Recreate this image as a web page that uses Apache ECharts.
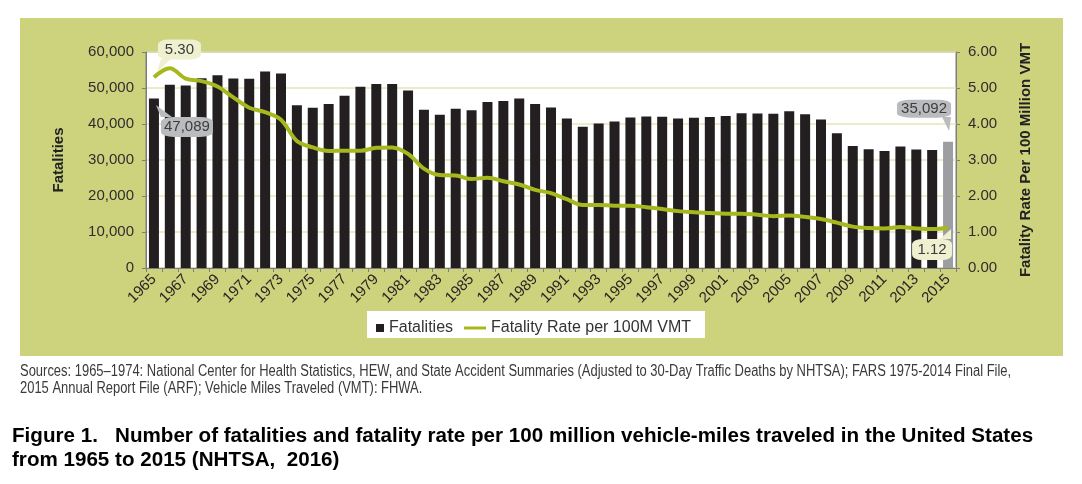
<!DOCTYPE html>
<html>
<head>
<meta charset="utf-8">
<script src="https://cdn.jsdelivr.net/npm/echarts@6/dist/echarts.min.js"></script>
<style>
  html, body { margin: 0; padding: 0; background: #fff; }
  #chart { width: 1082px; height: 484px; }
</style>
</head>
<body>
<div id="chart"></div>
<script>
const years = [];
for (let y = 1965; y <= 2015; y++) years.push(String(y));

const fatalities = [
  47089, 50894, 50724, 52725, 53543, 52627, 52542, 54589, 54052, 45196,
  44525, 45523, 47878, 50331, 51093, 51091, 49301, 43945, 42589, 44257,
  43825, 46087, 46390, 47087, 45582, 44599, 41508, 39250, 40150, 40716,
  41817, 42065, 42013, 41501, 41717, 41945, 42196, 43005, 42884, 42836,
  43510, 42708, 41259, 37423, 33883, 32999, 32479, 33782, 32894, 32744,
  35092
];

const rates = [
  5.30, 5.55, 5.26, 5.19, 5.04, 4.74, 4.45, 4.33, 4.12, 3.53,
  3.35, 3.25, 3.26, 3.26, 3.34, 3.35, 3.17, 2.76, 2.58, 2.57,
  2.47, 2.51, 2.41, 2.32, 2.17, 2.08, 1.91, 1.75, 1.75, 1.73,
  1.73, 1.69, 1.64, 1.58, 1.55, 1.53, 1.51, 1.51, 1.48, 1.44,
  1.46, 1.42, 1.36, 1.26, 1.15, 1.11, 1.10, 1.14, 1.10, 1.08,
  1.12
];

const seriesNames = ['Fatalities', 'Fatality Rate per 100M VMT'];
const leftAxisTitle = 'Fatalities';
const rightAxisTitle = 'Fatality Rate Per 100 Million VMT';
const sourceLines = [
  'Sources: 1965\u20131974: National Center for Health Statistics, HEW, and State Accident Summaries (Adjusted to 30-Day Traffic Deaths by NHTSA); FARS 1975-2014 Final File,',
  '2015 Annual Report File (ARF); Vehicle Miles Traveled (VMT): FHWA.'
];
const captionLines = [
  'Figure 1.   Number of fatalities and fatality rate per 100 million vehicle-miles traveled in the United States',
  'from 1965 to 2015 (NHTSA,  2016)'
];

const FONT = '"Liberation Sans", Arial, sans-serif';
const PANEL = '#cdd27d';
const LINE = '#a7b81e';
const GREY_BOX = '#b9bbbe';
const CREAM_BOX = '#eef0d0';

const last = years.length - 1;

const chart = echarts.init(document.getElementById('chart'));

function callout(coord, text, bg, box, tail) {
  // box: [w, h, dx, dy]  tail: [path, w, h, dx, dy]
  return [
    {
      coord: coord,
      symbol: tail[0],
      symbolSize: [tail[1], tail[2]],
      symbolOffset: [tail[3], tail[4]],
      itemStyle: { color: bg },
      label: { show: false }
    },
    {
      coord: coord,
      symbol: 'roundRect',
      symbolSize: [box[0], box[1]],
      symbolOffset: [box[2], box[3]],
      itemStyle: { color: bg },
      label: {
        show: true, position: 'inside', formatter: text,
        color: '#3c3c3c', fontFamily: FONT, fontSize: 15
      }
    }
  ];
}

// sources text is set in a condensed face in the original; squeeze regular Arial
function squeezed(text, x, y, font, fill, sx) {
  return {
    type: 'text', x: x, y: y, scaleX: sx,
    style: { text: text, x: 0, y: 0, font: font, fill: fill, textVerticalAlign: 'middle' }
  };
}

chart.setOption({
  animation: false,
  backgroundColor: '#fff',
  graphic: {
    elements: [
      { type: 'rect', z: -10, shape: { x: 20, y: 18, width: 1043, height: 338 }, style: { fill: PANEL } },
      { type: 'rect', z: 1, shape: { x: 367, y: 311, width: 338, height: 27 }, style: { fill: '#fff' } },
      squeezed(sourceLines[0], 20, 372, '16px ' + FONT, '#3a3a3a', 0.81),
      squeezed(sourceLines[1], 20, 389, '16px ' + FONT, '#3a3a3a', 0.81),
      squeezed(captionLines[0], 12, 436, 'bold 20px ' + FONT, '#000', 1.03),
      squeezed(captionLines[1], 12, 460, 'bold 20px ' + FONT, '#000', 1.03)
    ]
  },
  legend: [
    {
      data: [seriesNames[0]],
      left: 371, top: 315,
      icon: 'rect', itemWidth: 8, itemHeight: 8, itemGap: 10,
      textStyle: { fontFamily: FONT, fontSize: 16, color: '#333' }
    },
    {
      data: [seriesNames[1]],
      left: 459, top: 315,
      icon: 'rect', itemWidth: 22, itemHeight: 3,
      textStyle: { fontFamily: FONT, fontSize: 16, color: '#333' }
    }
  ],
  grid: {
    left: 146, right: 126, top: 52, bottom: 216,
    show: true, backgroundColor: '#fff', borderColor: '#7d7d7d', borderWidth: 1
  },
  xAxis: {
    type: 'category',
    data: years,
    boundaryGap: true,
    axisLine: { lineStyle: { color: '#7d7d7d' } },
    axisTick: { show: true, interval: 0, length: 4, lineStyle: { color: '#7d7d7d' } },
    axisLabel: { interval: 1, rotate: 45, margin: 9, fontFamily: FONT, fontSize: 15, color: '#262626' }
  },
  yAxis: [
    {
      type: 'value', min: 0, max: 60000, interval: 10000,
      name: leftAxisTitle, nameLocation: 'middle', nameRotate: 90, nameGap: 80,
      nameTextStyle: { fontFamily: FONT, fontSize: 15, fontWeight: 'bold', color: '#222' },
      axisLine: { show: true, lineStyle: { color: '#7d7d7d' } },
      axisTick: { show: true, length: 4, lineStyle: { color: '#7d7d7d' } },
      axisLabel: {
        fontFamily: FONT, fontSize: 15, color: '#2e2e2e', margin: 12,
        formatter: v => v.toLocaleString('en-US')
      },
      splitLine: { show: true, lineStyle: { color: '#e4e7b6', width: 1.5 } }
    },
    {
      type: 'value', min: 0, max: 6, interval: 1, position: 'right',
      name: rightAxisTitle, nameLocation: 'middle', nameRotate: 90, nameGap: 62,
      nameTextStyle: { fontFamily: FONT, fontSize: 15, fontWeight: 'bold', color: '#222' },
      axisLine: { show: true, lineStyle: { color: '#7d7d7d' } },
      axisTick: { show: true, length: 4, lineStyle: { color: '#7d7d7d' } },
      axisLabel: {
        fontFamily: FONT, fontSize: 15, color: '#2e2e2e', margin: 12,
        formatter: v => v.toFixed(2)
      },
      splitLine: { show: false }
    }
  ],
  series: [
    {
      name: seriesNames[0],
      type: 'bar',
      barWidth: 10,
      itemStyle: { color: '#231f20' },
      data: fatalities.map((v, i) => i === last ? { value: v, itemStyle: { color: '#9c9ea1' } } : v),
      markPoint: {
        silent: true,
        data: [].concat(
          callout([years[0], fatalities[0]], fatalities[0].toLocaleString('en-US'), GREY_BOX,
            [52, 20, 33, 28.5], ['path://M0,0 L16,12 L5,12 Z', 16, 12, 10, 12.5]),
          callout([years[last], fatalities[last]], fatalities[last].toLocaleString('en-US'), GREY_BOX,
            [54, 18, -24, -33], ['path://M0,0 L9,0 L7,14 Z', 9, 14, -1.5, -17.7])
        )
      }
    },
    {
      name: seriesNames[1],
      type: 'line',
      yAxisIndex: 1,
      smooth: 0.35,
      showSymbol: false,
      lineStyle: { color: LINE, width: 4 },
      itemStyle: { color: LINE },
      data: rates,
      markPoint: {
        silent: true,
        data: [].concat(
          callout([years[0], rates[0]], rates[0].toFixed(2), CREAM_BOX,
            [43, 20, 25.5, -27.7], ['path://M4,0 L14,0 L0,13 Z', 14, 13, 10, -11.7]),
          callout([years[last], rates[last]], rates[last].toFixed(2), CREAM_BOX,
            [40, 21, -16, 21.8], ['path://M11,0 L11,10 L0,10 Z', 11, 10, -2.5, 6.3])
        )
      }
    }
  ]
});

window.addEventListener('resize', function () { chart.resize(); });
</script>
</body>
</html>
